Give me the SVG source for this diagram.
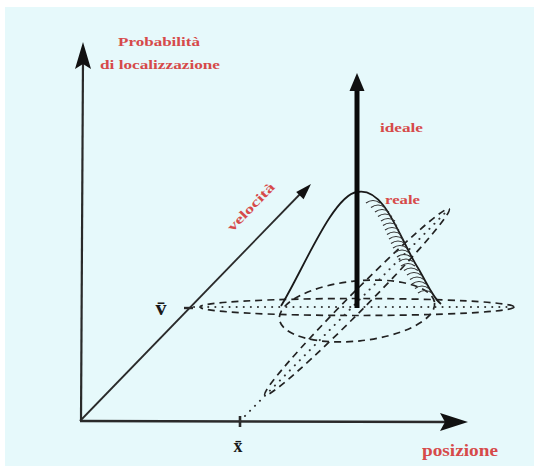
<svg xmlns="http://www.w3.org/2000/svg" width="539" height="472" viewBox="0 0 539 472">
<style>
.lbl{font-family:"Liberation Serif","Times New Roman",serif;font-weight:bold;fill:#d64a4a;font-size:13px}
.sym{font-family:"Liberation Serif","Times New Roman",serif;font-weight:bold;fill:#1a1a1a}
.axis{stroke:#2a2a2a;fill:none}
.dash{stroke:#222;fill:none;stroke-width:1.7;stroke-dasharray:7 5}
.dot{stroke:#333;fill:none;stroke-width:2;stroke-linecap:round;stroke-dasharray:0.1 7}
.hatch{stroke:#333;fill:none;stroke-width:1.2}
.head{fill:#111;stroke:none}
</style>
<rect x="0" y="0" width="539" height="472" fill="#ffffff"/>
<rect x="5" y="7" width="529" height="459" fill="#e6f9fb"/>

<g id="axes">
  <line class="axis" x1="81" y1="421" x2="83" y2="58" stroke-width="2.2"/>
  <path class="head" d="M83,42 L91,69 L83,64 L75,69 Z"/>
  <line class="axis" x1="80" y1="421" x2="450" y2="422" stroke-width="2.4"/>
  <path class="head" d="M468,422 L440,413 L445,422 L440,431 Z"/>
  <line class="axis" x1="80" y1="421" x2="303" y2="191" stroke-width="1.8"/>
  <path class="head" d="M311,184 L303.6,199.2 L296.2,192.1 Z"/>
  <line class="axis" x1="184" y1="308" x2="193" y2="308" stroke-width="2.4"/>
  <line class="axis" x1="240" y1="416" x2="240" y2="427" stroke-width="2.6"/>
</g>

<g id="distribution">
  <ellipse class="dash" cx="357" cy="307" rx="157" ry="8.5"/>
  <ellipse class="dash" cx="357" cy="302" rx="131" ry="9" transform="rotate(-45.3 357 302)"/>
  <ellipse class="dash" cx="357" cy="311" rx="78" ry="30" transform="rotate(-6 357 311)"/>
  <line class="dot" x1="194" y1="307" x2="508" y2="307"/>
  <line class="dot" x1="240" y1="421" x2="445" y2="213"/>
  <path d="M281,306 C303,270 333,195 357,192 C385,186 400,240 418,268 C428,285 433,298 441,304" fill="none" stroke="#1a1a1a" stroke-width="1.8"/>
  <path class="hatch" d="M366,203 q7,-5 14,0 M371,207.5 q7,-5 14,0 M375,212 q7,-5 14,0 M378,216.5 q7,-5 14,0 M381,221 q7,-5 14,0 M383,225.5 q7,-5 14,0 M385,230 q7,-5 14,0 M387,234.5 q7,-5 14,0 M389,239 q7,-5 14,0 M391,243.5 q7,-5 14,0 M393,248 q7,-5 14,0 M395,252.5 q7,-5 14,0 M397,257 q7,-5 14,0 M399,261.5 q7,-5 14,0 M401,266 q7,-5 14,0 M404,270.5 q7,-5 14,0 M407,275 q7,-5 14,0 M410,279.5 q7,-5 14,0 M412,284 q7,-5 14,0 M415,288.5 q7,-5 14,0 M418,293 q7,-5 14,0"/>
</g>

<g id="ideal">
  <line x1="357" y1="308" x2="357" y2="86" stroke="#0a0a0a" stroke-width="5"/>
  <path class="head" d="M357,73 L364.5,91 L349.5,91 Z"/>
</g>

<g id="labels">
  <text class="lbl" x="159" y="46" text-anchor="middle" textLength="82" lengthAdjust="spacingAndGlyphs">Probabilità</text>
  <text class="lbl" x="160" y="69" text-anchor="middle" textLength="120" lengthAdjust="spacingAndGlyphs">di localizzazione</text>
  <text class="lbl" x="380" y="132" textLength="43" lengthAdjust="spacingAndGlyphs">ideale</text>
  <text class="lbl" x="385" y="204" textLength="35" lengthAdjust="spacingAndGlyphs">reale</text>
  <text class="lbl" x="0" y="0" text-anchor="middle" textLength="62" lengthAdjust="spacingAndGlyphs" transform="translate(254,210) rotate(-46)">velocità</text>
  <text class="lbl" x="422" y="456" textLength="76" lengthAdjust="spacingAndGlyphs" style="font-size:16px">posizione</text>
  <text class="sym" x="161" y="315" text-anchor="middle" style="font-size:22px">v̄</text>
  <text class="sym" x="238" y="452" text-anchor="middle" style="font-size:18px">x̄</text>
</g>
</svg>
